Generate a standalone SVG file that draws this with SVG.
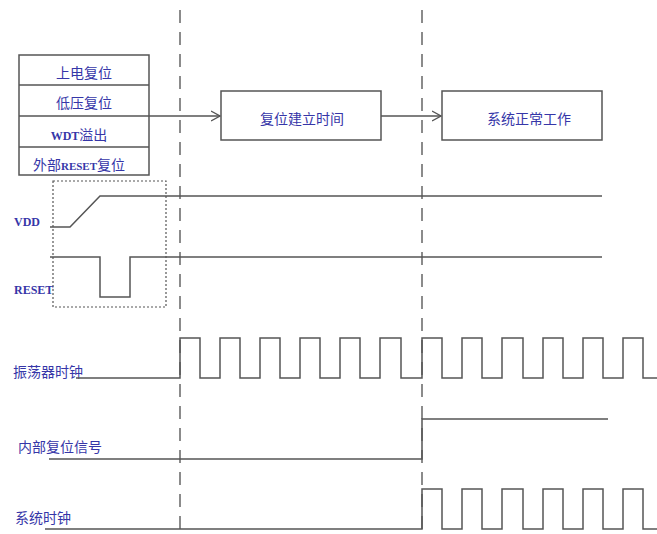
<svg xmlns="http://www.w3.org/2000/svg" width="657" height="534" viewBox="0 0 657 534">
<defs>
<style>
.ln{fill:none;stroke:#555;stroke-width:1.5}
.box{fill:#fff;stroke:#555;stroke-width:1.5}
.dash{fill:none;stroke:#666;stroke-width:1.5;stroke-dasharray:13 9}
.dot{fill:none;stroke:#555;stroke-width:1.2;stroke-dasharray:2 2}
.t{font-family:"Noto Sans CJK SC","Noto Sans",sans-serif;font-size:14px;fill:#3636a8}
.s{font-family:"Liberation Serif","Noto Sans CJK SC",serif;font-weight:bold;font-size:11px;fill:#3636a8}
.s12{font-size:12px}
.c{text-anchor:middle}
</style>
<marker id="arr" markerWidth="10" markerHeight="12" refX="9" refY="6" orient="auto" markerUnits="userSpaceOnUse">
<path d="M0,1 L9,6 L0,11" fill="none" stroke="#555" stroke-width="1.3"/>
</marker>
</defs>
<rect width="657" height="534" fill="#fff"/>

<g id="guides">
<line class="dash" x1="180" y1="10" x2="180" y2="534"/>
<line class="dash" x1="422" y1="10" x2="422" y2="534"/>
</g>

<g id="sources">
<rect class="box" x="19" y="55" width="130" height="120"/>
<line class="ln" x1="19" y1="85" x2="149" y2="85"/>
<line class="ln" x1="19" y1="116" x2="149" y2="116"/>
<line class="ln" x1="19" y1="147" x2="149" y2="147"/>
<text class="t c" x="84" y="78">上电复位</text>
<text class="t c" x="84" y="108">低压复位</text>
<text class="t c" x="79" y="140"><tspan class="s s12">WDT</tspan>溢出</text>
<text class="t c" x="79" y="170">外部<tspan class="s">RESET</tspan>复位</text>
</g>

<g id="setup">
<rect class="box" x="221" y="91" width="160" height="49"/>
<text class="t c" x="302" y="124">复位建立时间</text>
</g>

<g id="normal">
<rect class="box" x="442" y="91" width="160" height="49"/>
<text class="t c" x="529" y="124">系统正常工作</text>
</g>

<g id="connectors">
<line class="ln" x1="149" y1="116" x2="220" y2="116" marker-end="url(#arr)"/>
<line class="ln" x1="381" y1="116" x2="441" y2="116" marker-end="url(#arr)"/>
</g>

<g id="power">
<rect class="dot" x="53" y="181" width="113" height="126"/>
<text class="s s12" x="14" y="226">VDD</text>
<polyline class="ln" points="50,227 70,227 100,196 602,196"/>
<text class="s s12" x="14" y="294">RESET</text>
<polyline class="ln" points="50,257 100,257 100,297 130,297 130,257 602,257"/>
</g>

<g id="osc">
<text class="t" x="13" y="377">振荡器时钟</text>
<polyline class="ln" points="76,378 180,378 180,338 200,338 200,378 220,378 220,338 240,338 240,378 260,378 260,338 280,338 280,378 300,378 300,338 320,338 320,378 340,378 340,338 360,338 360,378 380,378 380,338 401,338 401,378 422,378 422,338 442,338 442,378 462,378 462,338 482,338 482,378 502,378 502,338 523,338 523,378 543,378 543,338 563,338 563,378 583,378 583,338 603,338 603,378 623,378 623,338 643,338 643,378 657,378"/>
</g>

<g id="intreset">
<text class="t" x="18" y="452">内部复位信号</text>
<polyline class="ln" points="49,459 422,459 422,419 608,419"/>
</g>

<g id="sysclk">
<text class="t" x="15" y="523">系统时钟</text>
<polyline class="ln" points="45,529 422,529 422,489 442,489 442,529 462,529 462,489 482,489 482,529 502,529 502,489 523,489 523,529 543,529 543,489 563,489 563,529 583,529 583,489 603,489 603,529 623,529 623,489 643,489 643,529 657,529"/>
</g>
</svg>
